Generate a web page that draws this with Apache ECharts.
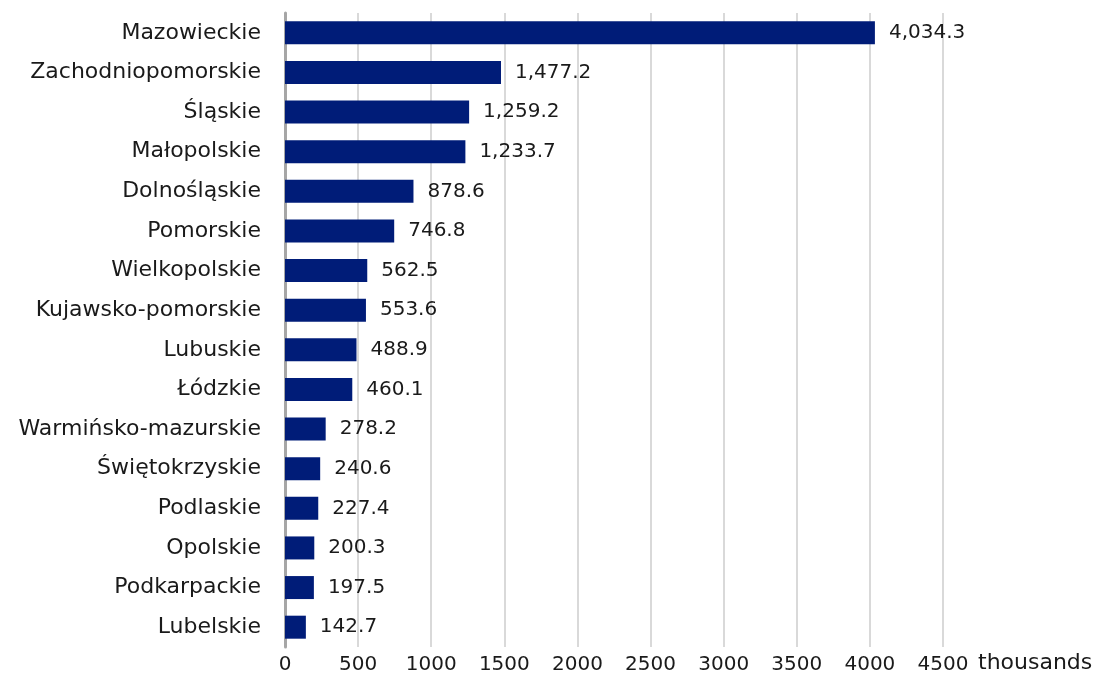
<!DOCTYPE html>
<html>
<head>
<meta charset="utf-8">
<script src="https://cdn.jsdelivr.net/npm/echarts@6/dist/echarts.min.js"></script>
<style>html,body{margin:0;padding:0;background:#fff;}#c{width:1101px;height:687px;}</style>
</head>
<body>
<div id="c"></div>
<script>
const categories = ["Mazowieckie","Zachodniopomorskie","Śląskie","Małopolskie","Dolnośląskie","Pomorskie","Wielkopolskie","Kujawsko-pomorskie","Lubuskie","Łódzkie","Warmińsko-mazurskie","Świętokrzyskie","Podlaskie","Opolskie","Podkarpackie","Lubelskie"];
const values = [4034.3,1477.2,1259.2,1233.7,878.6,746.8,562.5,553.6,488.9,460.1,278.2,240.6,227.4,200.3,197.5,142.7];
const xTicks = [0,500,1000,1500,2000,2500,3000,3500,4000,4500];
const unitLabel = "thousands";

const FONT = "DejaVu Sans";
const chart = echarts.init(document.getElementById('c'));
chart.setOption({
  animation: false,
  grid: {left: 285, right: 158, top: 13, bottom: 40, containLabel: false},
  xAxis: {
    type: 'value', min: xTicks[0], max: xTicks[xTicks.length-1], interval: 500,
    name: unitLabel, nameLocation: 'end', nameGap: 35,
    nameTextStyle: {fontFamily: FONT, fontSize: 22, color: '#1a1a1a', verticalAlign: 'top', padding: [5,0,0,0]},
    axisLine: {show: false}, axisTick: {show: false},
    axisLabel: {fontFamily: FONT, fontSize: 20, color: '#1a1a1a', margin: 8, formatter: v => String(v)},
    splitLine: {show: true, lineStyle: {color: '#d9d9d9', width: 2}}
  },
  yAxis: {
    type: 'category', data: categories, inverse: true,
    axisLine: {show: true, lineStyle: {color: '#a6a6a6', width: 3}},
    axisTick: {show: false},
    axisLabel: {fontFamily: FONT, fontSize: 22, color: '#1a1a1a', margin: 24}
  },
  series: [{
    type: 'bar', data: values, barWidth: 23,
    itemStyle: {color: '#001c78'},
    label: {show: true, position: 'right', distance: 14, fontFamily: FONT, fontSize: 20, color: '#1a1a1a',
      formatter: p => p.value.toLocaleString('en-US', {minimumFractionDigits: 1, maximumFractionDigits: 1})}
  }]
});
</script>
</body>
</html>
